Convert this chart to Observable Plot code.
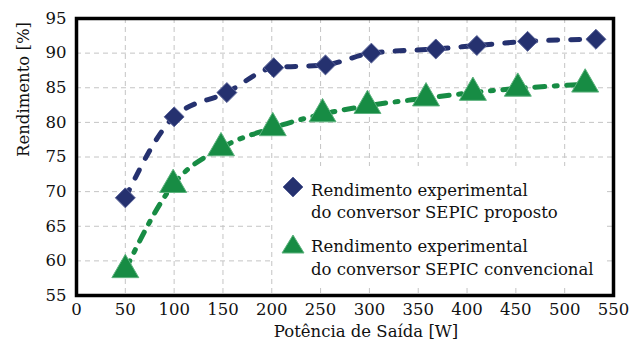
<!DOCTYPE html>
<html><head><meta charset="utf-8">
<script src="https://cdn.jsdelivr.net/npm/d3@7"></script>
<script src="https://cdn.jsdelivr.net/npm/@observablehq/plot@0.6"></script>
<style>
body{margin:0;background:#fff}
#wrap{position:relative;width:644px;height:347px}
#wrap svg{font-family:"DejaVu Serif", serif}
#legend{position:absolute;left:0;top:0;pointer-events:none}
</style>
</head><body><div id="wrap"></div>
<script>
// Data
const potProposto  = [50, 100, 154, 202, 255, 302, 368, 410, 462, 532];
const rendProposto = [69.1, 80.8, 84.3, 87.9, 88.3, 90.0, 90.6, 91.1, 91.7, 92.0];
const potConv      = [50, 99, 148, 201, 252, 298, 358, 406, 452, 521];
const rendConv     = [58.7, 71.0, 76.3, 79.2, 81.2, 82.4, 83.5, 84.3, 84.9, 85.5];
const xTicks = [0, 50, 100, 150, 200, 250, 300, 350, 400, 450, 500, 550];
const yTicks = [55, 60, 65, 70, 75, 80, 85, 90, 95];
const xGrid = [50, 100, 150, 200, 250, 300, 350, 400, 450, 500];
const yGrid = [60, 65, 70, 75, 80, 85, 90];
const xLabel = "Potência de Saída [W]";
const yLabel = "Rendimento [%]";
const legendLines = [
  ["Rendimento experimental", "do conversor SEPIC proposto"],
  ["Rendimento experimental", "do conversor SEPIC convencional"]
];

const BLUE = "#25316f", BLUE_EDGE = "#5a6499";
const GREEN = "#178c44", GREEN_EDGE = "#5cb27d";
const FONT = "'DejaVu Serif', serif";

const proposto = potProposto.map((p, i) => ({p, r: rendProposto[i]}));
const conv = potConv.map((p, i) => ({p, r: rendConv[i]}));

const chart = Plot.plot({
  width: 644, height: 347,
  marginLeft: 76, marginRight: 31, marginTop: 18, marginBottom: 52,
  style: {fontFamily: FONT, fontSize: "16.5px", background: "white", color: "#111"},
  x: {domain: [0, 550]},
  y: {domain: [55, 95]},
  marks: [
    Plot.gridX(xGrid, {stroke: "#c4c4c4", strokeOpacity: 1, strokeWidth: 1, strokeDasharray: "5,4"}),
    Plot.gridY(yGrid, {stroke: "#c4c4c4", strokeOpacity: 1, strokeWidth: 1, strokeDasharray: "5,4"}),
    Plot.axisX(xTicks, {tickSize: 0, tickPadding: 8, label: null, fill: "#111"}),
    Plot.axisY(yTicks, {tickSize: 0, tickPadding: 10, label: null, fill: "#111"}),
    Plot.line(proposto, {x: "p", y: "r", stroke: BLUE, strokeWidth: 5, strokeDasharray: "9,13", curve: "monotone-x"}),
    Plot.line(conv, {x: "p", y: "r", stroke: GREEN, strokeWidth: 5, strokeDasharray: "10,9.5,3,9.5", curve: "monotone-x"}),
    Plot.dot(proposto, {x: "p", y: "r", symbol: "diamond2", r: 9, fill: BLUE, stroke: BLUE_EDGE, strokeWidth: 1}),
    Plot.dot(conv, {x: "p", y: "r", symbol: "triangle", r: 10, fill: GREEN, stroke: GREEN_EDGE, strokeWidth: 1}),
    Plot.text([yLabel], {frameAnchor: "left", dx: -53, rotate: -90, fill: "#111"}),
    Plot.text([xLabel], {frameAnchor: "bottom", dy: 41, dx: 21, fill: "#111"}),
    Plot.frame({stroke: "black", strokeWidth: 3.5})
  ]
});
const wrap = document.getElementById("wrap");
wrap.appendChild(chart);

// Legend overlay (inside the plot area)
const ns = "http://www.w3.org/2000/svg";
const lg = document.createElementNS(ns, "svg");
lg.setAttribute("id", "legend");
lg.setAttribute("width", 644); lg.setAttribute("height", 347);
lg.style.fontFamily = FONT; lg.style.fontSize = "16.5px";
function el(tag, attrs, text) {
  const e = document.createElementNS(ns, tag);
  for (const k in attrs) e.setAttribute(k, attrs[k]);
  if (text) e.textContent = text;
  lg.appendChild(e);
  return e;
}
el("rect", {x: 274, y: 166, width: 332, height: 118, fill: "white"});
el("path", {d: "M293,177L303,187L293,197L283,187Z", fill: BLUE, stroke: BLUE_EDGE, "stroke-width": 1});
el("path", {d: "M293,235L304,253L282,253Z", fill: GREEN, stroke: GREEN_EDGE, "stroke-width": 1});
const baselines = [[196, 218], [252, 275]];
legendLines.forEach((lines, i) => lines.forEach((t, j) =>
  el("text", {x: 311, y: baselines[i][j], fill: "#111"}, t)));
wrap.appendChild(lg);
</script>
</body></html>
